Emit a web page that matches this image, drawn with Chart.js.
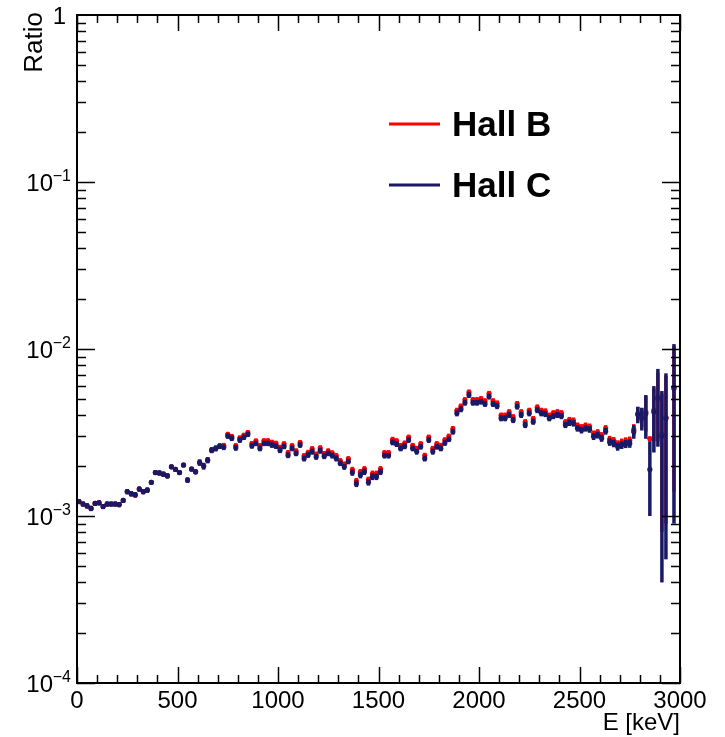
<!DOCTYPE html>
<html>
<head>
<meta charset="utf-8">
<script src="https://cdn.jsdelivr.net/npm/chart.js@4"></script>
<style>
  html, body { margin: 0; padding: 0; background: #fff; }
  #wrap { width: 725px; height: 737px; }
</style>
</head>
<body>
<div id="wrap"><canvas id="ratioChart" width="725" height="737"></canvas></div>
<script>
// energy binning (20 keV bins from 0 to 3000 keV)
const binWidth = 20;

// ratio values in units of 1e-3, one per bin (null = empty bin)
const hallC = [
    1.22, 1.18, 1.15, 1.11, 1.19, 1.20, 1.14, 1.18, 1.18, 1.18,
    1.17, 1.24, 1.40, 1.36, 1.34, 1.45, 1.40, 1.43, 1.59, 1.82,
    1.81, 1.78, 1.74, 1.97, 1.90, 1.82, 2.02, 1.64, 1.91, 1.84,
    2.09, 1.99, 2.16, 2.48, 2.54, 2.62, 2.58, 3.01, 2.92, 2.56,
    2.85, 2.96, 3.08, 2.63, 2.72, 2.54, 2.72, 2.72, 2.66, 2.62,
    2.48, 2.61, 2.31, 2.54, 2.37, 2.66, 2.21, 2.32, 2.43, 2.26,
    2.46, 2.28, 2.37, 2.30, 2.21, 2.07, 1.97, 2.12, 1.82, 1.56,
    1.76, 1.84, 1.59, 1.72, 1.72, 1.84, 2.30, 2.30, 2.76, 2.70,
    2.54, 2.62, 2.85, 2.54, 2.43, 2.60, 2.21, 2.85, 2.43, 2.60,
    2.54, 2.74, 2.88, 3.20, 4.12, 4.36, 4.77, 5.30, 4.77, 4.77,
    4.84, 4.69, 5.19, 4.69, 4.55, 3.85, 3.85, 4.03, 3.76, 4.52,
    4.03, 3.51, 4.12, 3.67, 4.31, 4.12, 4.08, 3.85, 3.97, 4.03,
    3.97, 3.51, 3.62, 3.59, 3.35, 3.27, 3.35, 3.30, 2.99, 3.05,
    2.92, 3.22, 2.77, 2.72, 2.60, 2.66, 2.70, 2.72, 3.20, 4.05,
    3.85, 4.10, 1.90, 4.20, 5.10, 3.00, 3.85, null, 5.80, null
];
const hallCErr = [
    0.04, 0.04, 0.04, 0.04, 0.04, 0.04, 0.04, 0.04, 0.04, 0.04,
    0.04, 0.04, 0.05, 0.05, 0.05, 0.05, 0.05, 0.05, 0.05, 0.06,
    0.06, 0.06, 0.06, 0.06, 0.06, 0.06, 0.06, 0.06, 0.06, 0.06,
    0.09, 0.09, 0.09, 0.10, 0.10, 0.10, 0.10, 0.11, 0.11, 0.10,
    0.11, 0.11, 0.11, 0.10, 0.10, 0.10, 0.10, 0.10, 0.10, 0.10,
    0.10, 0.10, 0.09, 0.10, 0.09, 0.10, 0.09, 0.09, 0.10, 0.09,
    0.10, 0.09, 0.09, 0.09, 0.09, 0.08, 0.08, 0.08, 0.08, 0.07,
    0.08, 0.08, 0.07, 0.08, 0.08, 0.08, 0.09, 0.09, 0.11, 0.11,
    0.10, 0.11, 0.11, 0.10, 0.10, 0.10, 0.09, 0.11, 0.10, 0.10,
    0.10, 0.11, 0.11, 0.13, 0.17, 0.18, 0.19, 0.21, 0.19, 0.19,
    0.19, 0.19, 0.21, 0.19, 0.19, 0.16, 0.16, 0.17, 0.16, 0.18,
    0.17, 0.15, 0.17, 0.15, 0.18, 0.17, 0.17, 0.16, 0.17, 0.17,
    0.17, 0.15, 0.16, 0.16, 0.15, 0.15, 0.15, 0.15, 0.14, 0.14,
    0.14, 0.15, 0.14, 0.14, 0.14, 0.14, 0.15, 0.16, 0.30, 0.46,
    0.60, 1.20, 0.90, 1.80, 2.50, 2.60, 3.30, null, 4.90, null
];
const hallB = [
    1.22, 1.18, 1.15, 1.11, 1.19, 1.20, 1.14, 1.18, 1.18, 1.18,
    1.17, 1.24, 1.40, 1.36, 1.34, 1.45, 1.40, 1.43, 1.59, 1.82,
    1.81, 1.78, 1.74, 1.97, 1.90, 1.82, 2.02, 1.64, 1.91, 1.84,
    2.09, 1.99, 2.16, 2.48, 2.54, 2.62, 2.64, 3.08, 2.99, 2.63,
    2.93, 3.04, 3.16, 2.71, 2.81, 2.63, 2.82, 2.82, 2.76, 2.72,
    2.57, 2.70, 2.39, 2.63, 2.45, 2.75, 2.29, 2.40, 2.52, 2.34,
    2.55, 2.36, 2.45, 2.38, 2.29, 2.14, 2.04, 2.20, 1.89, 1.62,
    1.83, 1.91, 1.65, 1.79, 1.79, 1.91, 2.39, 2.39, 2.87, 2.81,
    2.64, 2.72, 2.96, 2.64, 2.53, 2.70, 2.30, 2.96, 2.53, 2.70,
    2.64, 2.85, 3.00, 3.33, 4.28, 4.53, 4.96, 5.51, 4.96, 4.96,
    5.03, 4.88, 5.40, 4.88, 4.73, 4.00, 4.00, 4.19, 3.91, 4.70,
    4.19, 3.65, 4.28, 3.82, 4.48, 4.28, 4.24, 4.00, 4.13, 4.19,
    4.13, 3.65, 3.76, 3.73, 3.48, 3.40, 3.48, 3.43, 3.11, 3.17,
    3.04, 3.35, 2.88, 2.83, 2.70, 2.77, 2.81, 2.83, 3.30, 4.10,
    3.90, 4.20, 2.90, 4.30, 5.00, 3.10, 3.90, null, 5.90, null
];
const hallBErr = [
    0.04, 0.04, 0.04, 0.04, 0.04, 0.04, 0.04, 0.04, 0.04, 0.04,
    0.04, 0.04, 0.05, 0.05, 0.05, 0.05, 0.05, 0.05, 0.05, 0.06,
    0.06, 0.06, 0.06, 0.06, 0.06, 0.06, 0.06, 0.06, 0.06, 0.06,
    0.09, 0.09, 0.09, 0.10, 0.10, 0.10, 0.10, 0.11, 0.11, 0.10,
    0.11, 0.11, 0.11, 0.10, 0.10, 0.10, 0.10, 0.10, 0.10, 0.10,
    0.10, 0.10, 0.09, 0.10, 0.09, 0.10, 0.09, 0.09, 0.10, 0.09,
    0.10, 0.09, 0.09, 0.09, 0.09, 0.08, 0.08, 0.08, 0.08, 0.07,
    0.08, 0.08, 0.07, 0.08, 0.08, 0.08, 0.09, 0.09, 0.11, 0.11,
    0.10, 0.11, 0.11, 0.10, 0.10, 0.10, 0.09, 0.11, 0.10, 0.10,
    0.10, 0.11, 0.11, 0.13, 0.17, 0.18, 0.19, 0.21, 0.19, 0.19,
    0.19, 0.19, 0.21, 0.19, 0.19, 0.16, 0.16, 0.17, 0.16, 0.18,
    0.17, 0.15, 0.17, 0.15, 0.18, 0.17, 0.17, 0.16, 0.17, 0.17,
    0.17, 0.15, 0.16, 0.16, 0.15, 0.15, 0.15, 0.15, 0.14, 0.14,
    0.14, 0.15, 0.14, 0.14, 0.14, 0.14, 0.15, 0.16, 0.25, 0.40,
    0.50, 1.00, 0.10, 1.50, 2.20, 2.30, 3.00, null, 4.50, null
];

const xTicks = [0, 500, 1000, 1500, 2000, 2500, 3000];
const yDecades = [1, 1e-1, 1e-2, 1e-3, 1e-4];
const yDecadeExp = ['', '\u22121', '\u22122', '\u22123', '\u22124'];

const colorB = '#ff0000';
const colorC = '#191966';
const font = '"Liberation Sans", Arial, Helvetica, sans-serif';

function toPoints(values, errs) {
    const pts = [];
    values.forEach((v, i) => {
        if (v === null) return;
        pts.push({ x: binWidth * i + binWidth / 2, y: v * 1e-3, err: errs[i] * 1e-3 });
    });
    return pts;
}

// vertical error bars drawn through the chart scales
const errorBars = {
    id: 'errorBars',
    beforeDatasetDraw(chart, args) {
        const ds = chart.data.datasets[args.index];
        const xs = chart.scales.x, ys = chart.scales.y;
        const ctx = chart.ctx;
        const area = chart.chartArea;
        ctx.save();
        ctx.beginPath();
        ctx.rect(area.left, area.top, area.right - area.left, area.bottom - area.top);
        ctx.clip();
        ctx.strokeStyle = ds.pointBackgroundColor;
        ctx.lineWidth = 3.5;
        ds.data.forEach(p => {
            const px = xs.getPixelForValue(p.x);
            const lo = p.y - p.err;
            const yTop = ys.getPixelForValue(p.y + p.err);
            const yBot = lo > 0 ? ys.getPixelForValue(lo) : area.bottom;
            ctx.beginPath();
            ctx.moveTo(px, yBot);
            ctx.lineTo(px, yTop);
            ctx.stroke();
        });
        ctx.restore();
    }
};

// ROOT-like frame, inward ticks on all sides, y labels, titles and legend
const frameAndLabels = {
    id: 'frameAndLabels',
    afterDraw(chart) {
        const ctx = chart.ctx;
        const a = chart.chartArea;
        const xs = chart.scales.x, ys = chart.scales.y;
        ctx.save();
        ctx.strokeStyle = '#000';
        ctx.lineWidth = 1.5;

        // x ticks (bottom and top)
        for (let e = 0; e <= 3000; e += 100) {
            const px = Math.round(xs.getPixelForValue(e)) + 0.5;
            const len = e % 500 === 0 ? 16 : 8;
            ctx.beginPath();
            ctx.moveTo(px, a.bottom); ctx.lineTo(px, a.bottom - len);
            ctx.moveTo(px, a.top); ctx.lineTo(px, a.top + len);
            ctx.stroke();
        }
        // y ticks (left and right)
        for (let d = -4; d < 0; d++) {
            for (let m = 1; m <= 9; m++) {
                const v = m * Math.pow(10, d);
                const py = Math.round(ys.getPixelForValue(v)) + 0.5;
                const len = m === 1 ? 18 : 9;
                ctx.beginPath();
                ctx.moveTo(a.left, py); ctx.lineTo(a.left + len, py);
                ctx.moveTo(a.right, py); ctx.lineTo(a.right - len, py);
                ctx.stroke();
            }
        }
        // frame
        ctx.lineWidth = 2;
        ctx.strokeRect(a.left, a.top, a.right - a.left, a.bottom - a.top);

        // y decade labels
        ctx.fillStyle = '#000';
        yDecades.forEach((v, i) => {
            const py = ys.getPixelForValue(v);
            ctx.textBaseline = 'alphabetic';
            ctx.textAlign = 'right';
            if (v === 1) {
                ctx.font = '24px ' + font;
                ctx.fillText('1', 66, py + 9);
                return;
            }
            ctx.font = '16px ' + font;
            ctx.fillText(yDecadeExp[i], 71, py - 1);
            ctx.font = '24px ' + font;
            ctx.fillText('10', 53, py + 9);
        });

        // axis titles
        ctx.font = '24px ' + font;
        ctx.textAlign = 'right';
        ctx.fillText('E [keV]', a.right, 730);
        ctx.save();
        ctx.translate(42, a.top - 3);
        ctx.rotate(-Math.PI / 2);
        ctx.textAlign = 'right';
        ctx.font = '26px ' + font;
        ctx.fillText('Ratio', 0, 0);
        ctx.restore();

        // legend
        const legend = [
            { label: 'Hall B', color: colorB, y: 124 },
            { label: 'Hall C', color: colorC, y: 185 }
        ];
        legend.forEach(item => {
            ctx.strokeStyle = item.color;
            ctx.lineWidth = 3;
            ctx.beginPath();
            ctx.moveTo(389, item.y); ctx.lineTo(440, item.y);
            ctx.stroke();
            ctx.fillStyle = '#000';
            ctx.font = 'bold 35px ' + font;
            ctx.textAlign = 'left';
            ctx.textBaseline = 'middle';
            ctx.fillText(item.label, 452, item.y + 2);
        });
        ctx.restore();
    }
};

const ctxRatio = document.getElementById('ratioChart').getContext('2d');
new Chart(ctxRatio, {
    type: 'scatter',
    data: {
        datasets: [
            {
                label: 'Hall C',
                data: toPoints(hallC, hallCErr),
                pointBackgroundColor: colorC,
                pointBorderWidth: 0,
                pointRadius: 2.6,
                order: 1
            },
            {
                label: 'Hall B',
                data: toPoints(hallB, hallBErr),
                pointBackgroundColor: colorB,
                pointBorderWidth: 0,
                pointRadius: 2.6,
                order: 2
            }
        ]
    },
    options: {
        responsive: false,
        animation: false,
        devicePixelRatio: 1,
        layout: { padding: { top: 15, right: 45, left: 0, bottom: 0 } },
        plugins: {
            legend: { display: false },
            tooltip: { enabled: false }
        },
        scales: {
            x: {
                type: 'linear',
                min: 0,
                max: 3000,
                afterFit: s => { s.height = 54; },
                afterBuildTicks: s => { s.ticks = xTicks.map(v => ({ value: v })); },
                grid: { display: false, drawTicks: false },
                border: { display: false },
                ticks: {
                    color: '#000',
                    padding: 4,
                    maxRotation: 0,
                    autoSkip: false,
                    font: { family: font, size: 24 },
                    callback: v => String(v)
                }
            },
            y: {
                type: 'logarithmic',
                min: 1e-4,
                max: 1,
                afterFit: s => { s.width = 77; },
                grid: { display: false, drawTicks: false },
                border: { display: false },
                ticks: { display: false }
            }
        }
    },
    plugins: [errorBars, frameAndLabels]
});
</script>
</body>
</html>
